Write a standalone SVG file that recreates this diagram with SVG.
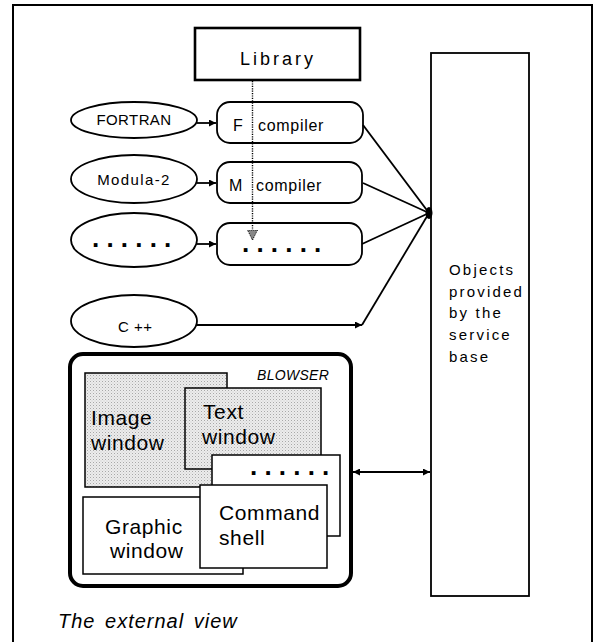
<svg xmlns="http://www.w3.org/2000/svg" width="599" height="642" viewBox="0 0 599 642">
<style>
  .t { font-family: "Liberation Sans", Arial, sans-serif; fill: #000; }
  .ln { stroke: #000; stroke-width: 1.8; fill: none; }
  .box { fill: #fff; stroke: #000; stroke-width: 1.8; }
  .win { stroke: #000; stroke-width: 1.5; }
  .ell { fill: #fff; stroke: #000; stroke-width: 1.8; }
  .dots { font-weight: bold; font-size: 26px; letter-spacing: 7.2px; }
  .big { font-size: 21px; letter-spacing: 0.6px; }
</style>
<defs>
  <marker id="ah" viewBox="0 0 10 10" refX="10" refY="5" markerWidth="8" markerHeight="7" markerUnits="userSpaceOnUse" orient="auto-start-reverse">
    <path d="M0,0 L10,5 L0,10 Z" fill="#000"/>
  </marker>
  <marker id="ahd" viewBox="0 0 10 10" refX="10" refY="5" markerWidth="10" markerHeight="11" markerUnits="userSpaceOnUse" orient="auto">
    <path d="M0,0 L10,5 L0,10 Z" fill="#888" stroke="#000" stroke-width="1" stroke-dasharray="1,1"/>
  </marker>
  <pattern id="stip" width="3" height="3" patternUnits="userSpaceOnUse">
    <rect width="3" height="3" fill="#ececec"/>
    <rect x="0" y="0" width="1" height="1" fill="#a8a8a8"/>
    <rect x="1.5" y="1.5" width="1" height="1" fill="#c8c8c8"/>
  </pattern>
</defs>

<g id="frame">
  <path d="M13,660 L13,5 L592,5 L592,660" fill="none" stroke="#000" stroke-width="2"/>
</g>

<g id="library">
  <rect x="195" y="28" width="165" height="52" fill="#fff" stroke="#000" stroke-width="2.6"/>
  <text class="t" x="278" y="65" font-size="18" letter-spacing="3" text-anchor="middle">Library</text>
</g>

<g id="fortran">
  <ellipse class="ell" cx="134" cy="120" rx="63" ry="18"/>
  <text class="t" x="134" y="125" font-size="15" letter-spacing="0.4" text-anchor="middle">FORTRAN</text>
</g>
<g id="modula">
  <ellipse class="ell" cx="134" cy="179" rx="63" ry="24"/>
  <text class="t" x="134" y="185" font-size="15" letter-spacing="1.4" text-anchor="middle">Modula-2</text>
</g>
<g id="other-lang">
  <ellipse class="ell" cx="134" cy="240" rx="63" ry="27"/>
  <text class="t dots" x="92" y="247">......</text>
</g>
<g id="cpp">
  <ellipse class="ell" cx="134" cy="321" rx="63" ry="26"/>
  <text class="t" x="118" y="332" font-size="15" letter-spacing="0.5">C ++</text>
</g>

<g id="f-compiler">
  <rect class="box" x="217" y="102" width="146" height="41" rx="13"/>
  <text class="t" x="233" y="131" font-size="16">F</text>
  <text class="t" x="258" y="131" font-size="16" letter-spacing="0.7">compiler</text>
</g>
<g id="m-compiler">
  <rect class="box" x="217" y="162" width="145" height="41" rx="13"/>
  <text class="t" x="229" y="191" font-size="16">M</text>
  <text class="t" x="256" y="191" font-size="16" letter-spacing="0.7">compiler</text>
</g>
<g id="other-compiler">
  <rect class="box" x="217" y="223" width="145" height="42" rx="13"/>
  <text class="t dots" x="242" y="252">......</text>
</g>

<g id="service-base">
  <rect x="431" y="53" width="98" height="543" fill="#fff" stroke="#000" stroke-width="1.8"/>
  <g class="t" font-size="15" letter-spacing="2.2">
    <text x="449" y="275">Objects</text>
    <text x="449" y="297">provided</text>
    <text x="449" y="318">by  the</text>
    <text x="449" y="340">service</text>
    <text x="449" y="362">base</text>
  </g>
</g>

<g id="blowser">
  <rect x="70" y="354" width="281" height="232" rx="13" fill="#fff" stroke="#000" stroke-width="4"/>
  <text class="t" x="257" y="380" font-size="14" font-style="italic" letter-spacing="0.3">BLOWSER</text>
  <g id="image-window">
    <rect class="win" x="85" y="373" width="142" height="114" fill="url(#stip)"/>
    <text class="t big" x="91" y="425">Image</text>
    <text class="t big" x="91" y="450">window</text>
  </g>
  <g id="text-window">
    <rect class="win" x="185" y="388" width="136" height="81" fill="url(#stip)"/>
    <text class="t big" x="203" y="419">Text</text>
    <text class="t big" x="202" y="444">window</text>
  </g>
  <g id="more-window">
    <rect class="win" x="212" y="455" width="128" height="81" fill="#fff"/>
    <text class="t dots" x="250" y="475">......</text>
  </g>
  <g id="graphic-window">
    <rect class="win" x="83" y="497" width="160" height="77" fill="#fff"/>
    <text class="t big" x="105" y="534">Graphic</text>
    <text class="t big" x="110" y="558">window</text>
  </g>
  <g id="command-shell">
    <rect class="win" x="200" y="485" width="127" height="83" fill="#fff"/>
    <text class="t big" x="219" y="520">Command</text>
    <text class="t big" x="219" y="545">shell</text>
  </g>
</g>

<g id="connectors">
  <line class="ln" x1="197" y1="123" x2="216" y2="123" marker-end="url(#ah)"/>
  <line class="ln" x1="197" y1="183" x2="216" y2="183" marker-end="url(#ah)"/>
  <line class="ln" x1="197" y1="244" x2="216" y2="244" marker-end="url(#ah)"/>
  <line class="ln" x1="197" y1="325" x2="362" y2="325" marker-end="url(#ah)"/>
  <line class="ln" x1="363" y1="125" x2="429" y2="213"/>
  <line class="ln" x1="363" y1="183" x2="429" y2="213"/>
  <line class="ln" x1="362" y1="244" x2="429" y2="213"/>
  <line class="ln" x1="362" y1="325" x2="429" y2="213"/>
  <ellipse cx="429" cy="213" rx="3.5" ry="6" fill="#000"/>
  <line x1="252.5" y1="81" x2="252.5" y2="240" stroke="#000" stroke-width="1.4" stroke-dasharray="1.2,1.2" marker-end="url(#ahd)"/>
  <line class="ln" x1="353" y1="472" x2="430" y2="472" marker-start="url(#ah)" marker-end="url(#ah)"/>
</g>

<text class="t" x="58" y="628" font-size="20" font-style="italic" letter-spacing="1" word-spacing="3">The external view</text>
</svg>
